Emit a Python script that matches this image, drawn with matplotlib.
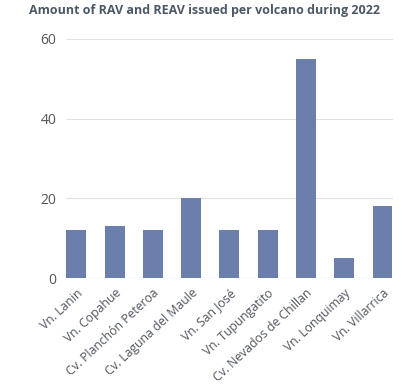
import matplotlib.pyplot as plt

volcanoes = ["Vn. Lanin", "Vn. Copahue", "Cv. Planchón Peteroa", "Cv. Laguna del Maule",
             "Vn. San José", "Vn. Tupungatito", "Cv. Nevados de Chillan",
             "Vn. Lonquimay", "Vn. Villarrica"]
alerts = [12, 13, 12, 20, 12, 12, 55, 5, 18]
yticks = [0, 20, 40, 60]

plt.rcParams['font.family'] = ['Open Sans', 'DejaVu Sans']

fig = plt.figure(figsize=(4.10, 3.89), dpi=100)
ax = fig.add_axes([0.161, 0.285, 0.797, 0.615])

x = range(len(volcanoes))
ax.bar(x, alerts, width=0.52, color='#6a7fab', zorder=3)

ax.set_xlim(-0.27, len(volcanoes) - 1 + 0.27)
ax.set_ylim(0, 60)
ax.set_yticks(yticks)
ax.grid(axis='y', color='#e0e2e6', linewidth=0.8, zorder=0)
for s in ax.spines.values():
    s.set_visible(False)
ax.axhline(0, color='#c8cbd1', linewidth=0.8, zorder=1)
ax.tick_params(axis='y', length=0, pad=7, labelsize=10, labelcolor='#4f5560')
ax.tick_params(axis='x', length=0, pad=6, labelsize=8.8, labelcolor='#4f5560')
ax.set_xticks(list(x))
ax.set_xticklabels(volcanoes, rotation=43, ha='right', va='top', rotation_mode='anchor')

fig.text(0.498, 0.974, "Amount of RAV and REAV issued per volcano during 2022",
         ha='center', va='center', fontsize=9, fontweight='bold', color='#4c5866')

fig.savefig('out.png', dpi=100)
